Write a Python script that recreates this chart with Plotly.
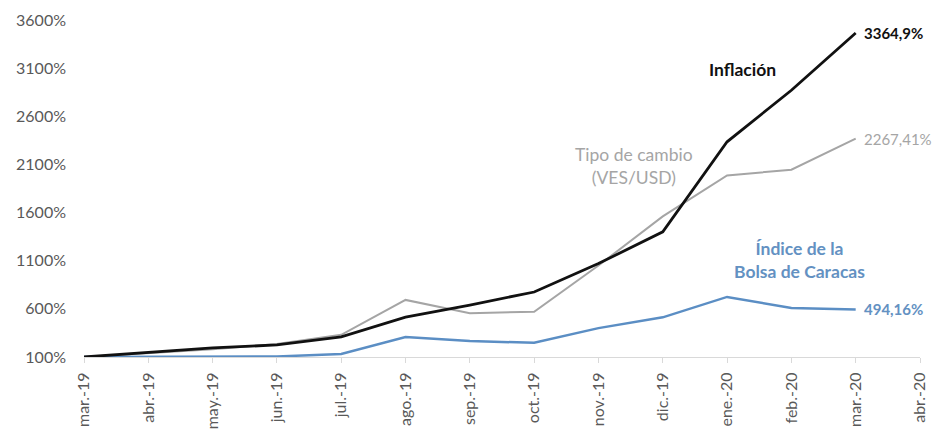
import plotly.graph_objects as go

meses = ["mar.-19", "abr.-19", "may.-19", "jun.-19", "jul.-19", "ago.-19", "sep.-19",
         "oct.-19", "nov.-19", "dic.-19", "ene.-20", "feb.-20", "mar.-20", "abr.-20"]

# Index values (base 100 = mar.-19); labels show cumulative % change
inflacion = [100, 150, 195, 225, 310, 515, 640, 775, 1070, 1400, 2335, 2870, 3464.9]
tipo_cambio = [100, 140, 180, 235, 330, 693, 555, 570, 1050, 1560, 1985, 2045, 2367.41]
bolsa = [100, 100, 100, 105, 132, 308, 265, 248, 400, 512, 724, 609, 594.16]

etiqueta_inflacion = "3364,9%"
etiqueta_cambio = "2267,41%"
etiqueta_bolsa = "494,16%"

y_ticks = [100, 600, 1100, 1600, 2100, 2600, 3100, 3600]
y_tick_labels = ["100%", "600%", "1100%", "1600%", "2100%", "2600%", "3100%", "3600%"]

BLACK = "#111111"
GRAY = "#a5a5a5"
BLUE = "#5b8ec4"
BLUE_TXT = "#6391c2"
FONT = "Lato"

n = len(inflacion)
fig = go.Figure()
fig.add_trace(go.Scatter(x=meses[:n], y=tipo_cambio, mode="lines",
                         line=dict(color=GRAY, width=2), hoverinfo="skip"))
fig.add_trace(go.Scatter(x=meses[:n], y=bolsa, mode="lines",
                         line=dict(color=BLUE, width=2.5), hoverinfo="skip"))
fig.add_trace(go.Scatter(x=meses[:n], y=inflacion, mode="lines",
                         line=dict(color=BLACK, width=2.8), hoverinfo="skip"))

ann = []
# end-value labels
for val, txt, col, bold in [(inflacion[-1], etiqueta_inflacion, BLACK, True),
                            (tipo_cambio[-1], etiqueta_cambio, GRAY, False),
                            (bolsa[-1], etiqueta_bolsa, BLUE_TXT, True)]:
    ann.append(dict(x=meses[n - 1], y=val, text=f"<b>{txt}</b>" if bold else txt,
                    xanchor="left", yanchor="middle", xshift=6, showarrow=False,
                    font=dict(family=FONT, size=15, color=col)))
# series names
ann.append(dict(x=10.24, y=3085, text="<b>Inflación</b>", showarrow=False,
                font=dict(family=FONT, size=17.5, color=BLACK)))
ann.append(dict(x=8.56, y=2080, text="Tipo de cambio<br>(VES/USD)", showarrow=False,
                font=dict(family=FONT, size=17.5, color=GRAY), align="center"))
ann.append(dict(x=11.12, y=1105, text="<b>Índice de la<br>Bolsa de Caracas</b>", showarrow=False,
                font=dict(family=FONT, size=17.5, color=BLUE_TXT), align="center"))

fig.update_layout(
    width=948, height=432,
    margin=dict(l=84, r=28, t=20, b=75),
    paper_bgcolor="white", plot_bgcolor="white",
    showlegend=False,
    font=dict(family=FONT, size=15, color="#595959"),
    annotations=ann,
)
fig.update_xaxes(type="category", categoryorder="array", categoryarray=meses,
                 range=[0, 13], showgrid=False, zeroline=False, automargin=False,
                 showline=True, linecolor="#d9d9d9", linewidth=1,
                 ticks="outside", ticklen=5, tickcolor="#d9d9d9",
                 ticklabelstandoff=3,
                 tickangle=-90, tickfont=dict(family=FONT, size=16, color="#595959"))
fig.update_yaxes(range=[100, 3600], tickvals=y_ticks, ticktext=y_tick_labels,
                 showgrid=False, zeroline=False, showline=False, automargin=False,
                 ticklabelstandoff=17,
                 tickfont=dict(family=FONT, size=16, color="#595959"))

fig.write_html("out.html", config={"displayModeBar": False},
               post_script="document.body.style.margin='0';document.body.style.overflow='hidden';")
